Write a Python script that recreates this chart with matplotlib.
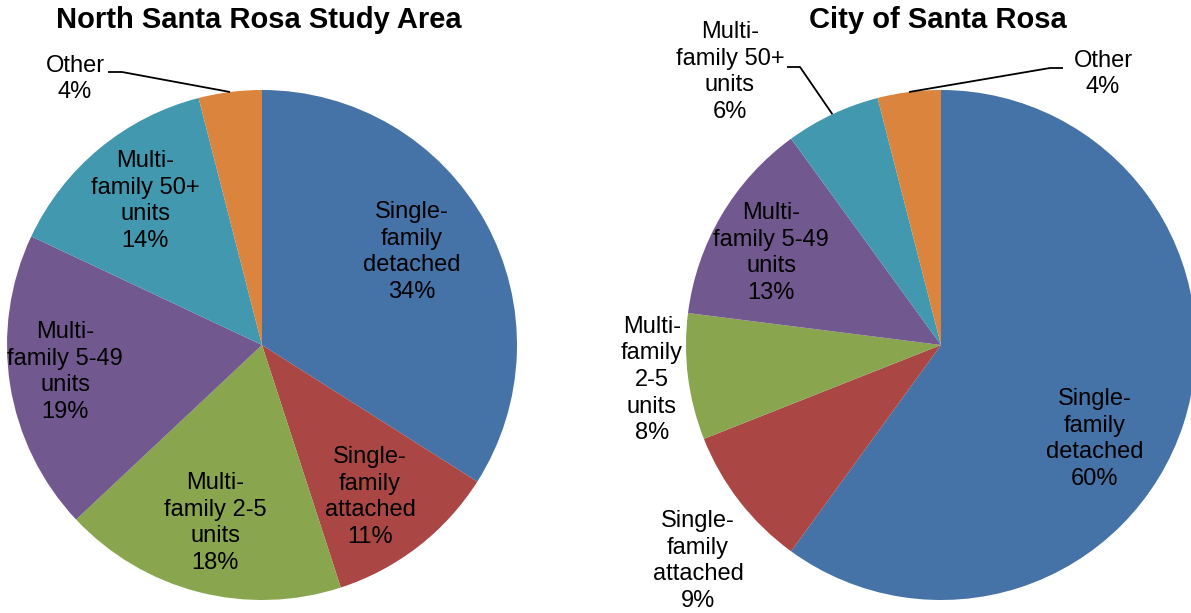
import matplotlib.pyplot as plt
import numpy as np

plt.rcParams['font.family'] = ['Liberation Sans', 'DejaVu Sans']

# housing type shares, listed clockwise from 12 o'clock
study_labels = ['Single-\nfamily\ndetached', 'Single-\nfamily\nattached', 'Multi-\nfamily 2-5\nunits',
                'Multi-\nfamily 5-49\nunits', 'Multi-\nfamily 50+\nunits', 'Other']
study_values = [34, 11, 18, 19, 14, 4]

city_labels = ['Single-\nfamily\ndetached', 'Single-\nfamily\nattached', 'Multi-\nfamily\n2-5\nunits',
               'Multi-\nfamily 5-49\nunits', 'Multi-\nfamily 50+\nunits', 'Other']
city_values = [60, 9, 8, 13, 6, 4]

colors = ['#4572A7', '#AA4643', '#89A54E', '#71588F', '#4198AF', '#DB843D']

# layout in pixel space (y grows downward)
W, H = 1191, 613
R = 255
study_center = (262, 345)
city_center = (941, 345)
study_text_pos = [(412, 252), (370, 497), (215, 523), (65, 372), (145, 201), (75, 79)]
city_text_pos = [(1095, 439), (698, 561), (652, 380), (771, 253), (730, 72), (1103, 74)]
# leader lines: slice index -> (text end, elbow)
study_leaders = {5: [(108, 72), (122, 72)]}
city_leaders = {4: [(787, 67), (800, 67)], 5: [(1063, 68), (1050, 68)]}


def draw_pie(ax, values, labels, center, text_pos, leaders, title, title_x):
    # y axis is inverted, so counterclock=True draws clockwise on screen
    wedges, _ = ax.pie(values, colors=colors, radius=R, center=center,
                       startangle=-90, counterclock=True,
                       wedgeprops=dict(linewidth=0))
    for i, (w, lab, v) in enumerate(zip(wedges, labels, values)):
        tx, ty = text_pos[i]
        ax.text(tx, ty, f'{lab}\n{v}%', ha='center', va='center',
                fontsize=17, linespacing=1.27, color='black')
        if i in leaders:
            mid = np.deg2rad((w.theta1 + w.theta2) / 2)
            ex = center[0] + R * np.cos(mid)
            ey = center[1] + R * np.sin(mid)
            pts = leaders[i] + [(ex, ey)]
            ax.plot([p[0] for p in pts], [p[1] for p in pts], color='black', lw=1.3,
                    solid_capstyle='butt')
    ax.text(title_x, 20, title, ha='center', va='center', fontsize=21, fontweight='bold')


fig = plt.figure(figsize=(W / 100, H / 100), dpi=100)
ax = fig.add_axes([0, 0, 1, 1])

draw_pie(ax, study_values, study_labels, study_center, study_text_pos, study_leaders,
         'North Santa Rosa Study Area', 259)
draw_pie(ax, city_values, city_labels, city_center, city_text_pos, city_leaders,
         'City of Santa Rosa', 938)

ax.set_xlim(0, W)
ax.set_ylim(H, 0)
ax.set_aspect('equal')
ax.axis('off')

fig.savefig('out.png', dpi=100, facecolor='white')
